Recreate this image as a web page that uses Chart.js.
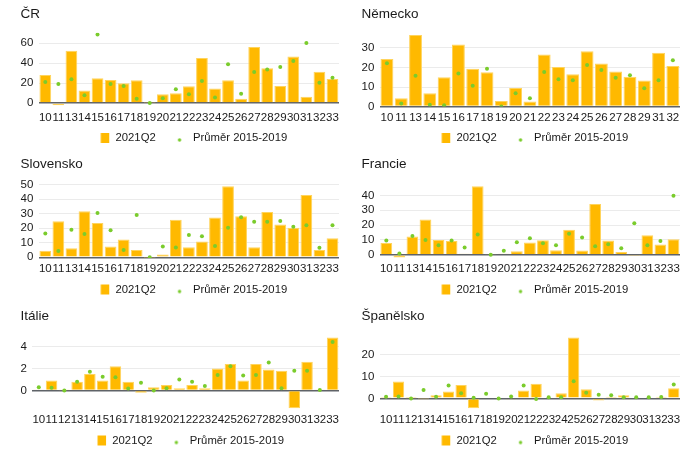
<!DOCTYPE html>
<html lang="cs">
<head>
<meta charset="UTF-8">
<title>2021Q2 a průměr 2015-2019</title>
<script src="https://cdn.jsdelivr.net/npm/chart.js@4"></script>
<style>
  body { margin: 0; background: #fff; }
  .grid { position: relative; width: 700px; height: 458px; overflow: hidden; }
  .panel { position: absolute; width: 350px; }
</style>
</head>
<body>
<div class="grid">
  <div class="panel" style="left:0;top:0;height:150px"><canvas id="cz"></canvas></div>
  <div class="panel" style="left:350px;top:0;height:150px"><canvas id="de"></canvas></div>
  <div class="panel" style="left:0;top:150px;height:150px"><canvas id="sk"></canvas></div>
  <div class="panel" style="left:350px;top:150px;height:150px"><canvas id="fr"></canvas></div>
  <div class="panel" style="left:0;top:300px;height:158px"><canvas id="it"></canvas></div>
  <div class="panel" style="left:350px;top:300px;height:158px"><canvas id="es"></canvas></div>
</div>
<script>
// data
const seriesNames = ['2021Q2', 'Průměr 2015-2019'];

// categories (no 12)
const cats23 = ['10','11','13','14','15','16','17','18','19','20','21','22','23','24','25','26','27','28','29','30','31','32','33'];
// Germany (no 12, no 30, no 33)
const catsDe = ['10','11','13','14','15','16','17','18','19','20','21','22','23','24','25','26','27','28','29','31','32'];
// all sectors
const cats24 = ['10','11','12','13','14','15','16','17','18','19','20','21','22','23','24','25','26','27','28','29','30','31','32','33'];

const czQ2  = [28, -2.3, 52.4, 12.5, 24.7, 23, 19.8, 22.7, 0.2, 8.9, 9.9, 16.8, 45.1, 14.5, 22.7, 4.3, 56, 34.9, 17.1, 46.5, 6.3, 31.3, 24];
const czAvg = [21.1, 19.1, 23.7, 7.9, 68.5, 19.1, 17.1, 4.3, 0, 4.9, 13.8, 8.9, 22.1, 5.6, 38.9, 9.2, 31, 33.6, 36.2, 42.2, 60, 20.4, 25.4];

const deQ2  = [24.4, 4.3, 36.6, 6.8, 15, 31.7, 19.4, 17.5, 2.9, 9.5, 2.6, 26.7, 20.3, 16.5, 28.3, 22, 18, 15.3, 13.3, 27.6, 20.8];
const deAvg = [22.1, 1.5, 15.8, 0.9, 0.7, 16.9, 10.6, 19.3, 0, 6.8, 4.3, 17.7, 14, 13.5, 21.3, 18.7, 14.7, 16, 9.4, 13.5, 23.7];

const skQ2  = [4.5, 24.7, 6.3, 31.7, 23.5, 7.5, 12.2, 5, -0.2, 2, 25.8, 7, 10.9, 27.4, 48.9, 28.3, 7, 31.2, 22.6, 20.4, 42.8, 5, 13.1];
const skAvg = [16.3, 4.3, 19, 16, 30.5, 18.6, 5, 29, 0, 7.5, 6.8, 15.4, 14.5, 7.7, 20.4, 27.6, 24.4, 24.4, 24.9, 21, 22, 6.6, 22];

const frQ2  = [8, -1.8, 12.4, 23.8, 10, 9.3, 0.7, 46.2, 0.4, 0.7, 2.4, 8.2, 9.8, 3.1, 16.9, 2.9, 34.2, 9.6, 1.8, -0.2, 13.1, 6.9, 10.4];
const frAvg = [9.6, 0.9, 12.7, 10, 6.4, 9.6, 4.9, 13.6, 0, 2.7, 8.4, 11.1, 7.8, 6.4, 14.2, 11.6, 5.8, 7.1, 4.4, 21.3, 6.4, 9.3, 39.8];

const itQ2  = [0.1, 0.9, 0.02, 0.8, 1.5, 0.9, 2.2, 0.8, -0.2, 0.3, 0.5, 0.2, 0.5, 0.2, 2, 2.4, 0.9, 2.4, 1.9, 1.8, -1.6, 2.6, 0.1, 4.8];
const itAvg = [0.3, 0.25, 0, 0.8, 1.7, 1.25, 1.2, 0.18, 0.7, 0, 0.2, 1, 0.8, 0.42, 1.4, 2.2, 1.35, 1.4, 2.55, 0.2, 1.8, 1.8, 0.05, 4.4];

const esQ2  = [0.6, 7.7, 0.05, -0.1, 1.4, 3.2, 6.2, -4.5, 0, 0, -0.3, 3.6, 6.7, 0.45, 2.3, 28, 4.2, -1, 0.8, 1.4, 0, 0, 0.8, 4.7];
const esAvg = [0.8, 0.9, -0.1, 3.8, 0.8, 5.9, 2.3, 0.3, 2.1, -0.1, 0.9, 5.9, -0.3, 0.5, 0.5, 7.9, 2.6, 1.7, 1.4, 0.5, 0.5, 0.5, 0.6, 6.4];

// y tick labels per panel
const czTicks = [0, 20, 40, 60];
const deTicks = [0, 10, 20, 30];
const skTicks = [0, 10, 20, 30, 40, 50];
const frTicks = [0, 10, 20, 30, 40];
const itTicks = [0, 2, 4];
const esTicks = [0, 10, 20];

const barColor = '#FFB900';
const barEdge = '#FFD45C';
const dotColor = '#7ACC2C';
const textColor = '#1a1a1a';
const yPad = 5.5;
const legendPad = 12.4;      // horizontal gap between legend items
const legendLift = legendPad - 4;

Chart.defaults.font.family = "'Liberation Sans', Arial, sans-serif";

// small images for legend markers (square for bars, dot for averages)
function marker(kind) {
    const c = document.createElement('canvas');
    c.width = 20;
    c.height = 12;
    const g = c.getContext('2d');
    if (kind === 'bar') {
        g.fillStyle = barColor;
        g.fillRect(10.5, 1, 8.5, 10);
    } else {
        g.fillStyle = dotColor;
        g.beginPath();
        g.arc(11.8, 8, 1.7, 0, Math.PI * 2);
        g.fill();
    }
    return c;
}
const barMarker = marker('bar');
const dotMarker = marker('dot');

// the legend padding is wide for the item spacing; pull the legend up so it
// sits closer to the axis labels
const legendNudge = {
    id: 'legendNudge',
    afterLayout(chart) {
        const l = chart.legend;
        if (!l) return;
        l.top -= legendLift;
        l.bottom -= legendLift;
    }
};

function panel(id, o) {
    new Chart(document.getElementById(id), {
        type: 'bar',
        data: {
            labels: o.labels,
            datasets: [
                {
                    type: 'line',
                    label: seriesNames[1],
                    data: o.avg,
                    showLine: false,
                    pointRadius: 2,
                    pointHoverRadius: 2,
                    pointBorderWidth: 0,
                    pointBackgroundColor: dotColor,
                    order: 1
                },
                {
                    label: seriesNames[0],
                    data: o.q2,
                    backgroundColor: barColor,
                    borderColor: barEdge,
                    borderWidth: 1,
                    categoryPercentage: 1,
                    barPercentage: 0.9,
                    order: 2
                }
            ]
        },
        plugins: [legendNudge],
        options: {
            responsive: true,
            maintainAspectRatio: false,
            animation: false,
            layout: { padding: { left: o.padL, right: o.padR, top: 0, bottom: o.padB } },
            plugins: {
                title: {
                    display: true,
                    text: o.title,
                    align: 'start',
                    color: textColor,
                    font: { size: 13.5, weight: 'normal' },
                    padding: { top: o.titleTop, bottom: 10.6 }
                },
                legend: {
                    position: 'bottom',
                    fullSize: false,
                    maxHeight: 25.3,
                    labels: {
                        usePointStyle: true,
                        pointStyleWidth: 19.25,
                        padding: legendPad,
                        color: textColor,
                        font: { size: 11.3 },
                        generateLabels: () => [
                            { text: seriesNames[0], pointStyle: barMarker, fontColor: textColor, hidden: false, lineWidth: 0, datasetIndex: 1 },
                            { text: seriesNames[1], pointStyle: dotMarker, fontColor: textColor, hidden: false, lineWidth: 0, datasetIndex: 0 }
                        ]
                    }
                },
                tooltip: { enabled: false }
            },
            scales: {
                x: {
                    grid: { display: false, drawTicks: false },
                    border: { display: false },
                    ticks: { autoSkip: false, maxRotation: 0, minRotation: 0, padding: 4, color: textColor, font: { size: 11.5 } }
                },
                y: {
                    min: o.min,
                    max: o.max,
                    grid: {
                        drawTicks: false,
                        color: c => c.tick && c.tick.value === 0 ? '#5f6368' : '#ebebeb',
                        lineWidth: c => c.tick && c.tick.value === 0 ? 1.6 : 1
                    },
                    border: { display: false },
                    ticks: { autoSkip: false, padding: yPad, color: textColor, font: { size: 11.5 } },
                    afterBuildTicks: s => { s.ticks = o.ticks.map(v => ({ value: v })); },
                    // labels start right at the layout padding
                    afterFit: s => { s.width -= yPad; }
                }
            }
        }
    });
}

panel('cz', { title: 'ČR', labels: cats23, q2: czQ2, avg: czAvg, ticks: czTicks, min: -3.5, max: 70.3, padL: 20.5, padR: 11, padB: -3.65, titleTop: 6 });
panel('de', { title: 'Německo', labels: catsDe, q2: deQ2, avg: deAvg, ticks: deTicks, min: 0, max: 37.75, padL: 11.5, padR: 20, padB: -3.65, titleTop: 6 });
panel('sk', { title: 'Slovensko', labels: cats23, q2: skQ2, avg: skAvg, ticks: skTicks, min: -0.5, max: 51.2, padL: 20.5, padR: 11, padB: -5.15, titleTop: 6 });
panel('fr', { title: 'Francie', labels: cats23, q2: frQ2, avg: frAvg, ticks: frTicks, min: -2.2, max: 48.5, padL: 11.5, padR: 20, padB: -5.15, titleTop: 6 });
panel('it', { title: 'Itálie', labels: cats24, q2: itQ2, avg: itAvg, ticks: itTicks, min: -1.68, max: 5.05, padL: 20.5, padR: 11, padB: 1.85, titleTop: 8 });
panel('es', { title: 'Španělsko', labels: cats24, q2: esQ2, avg: esAvg, ticks: esTicks, min: -4.9, max: 29.2, padL: 11.5, padR: 20, padB: 1.85, titleTop: 8 });
</script>
</body>
</html>
